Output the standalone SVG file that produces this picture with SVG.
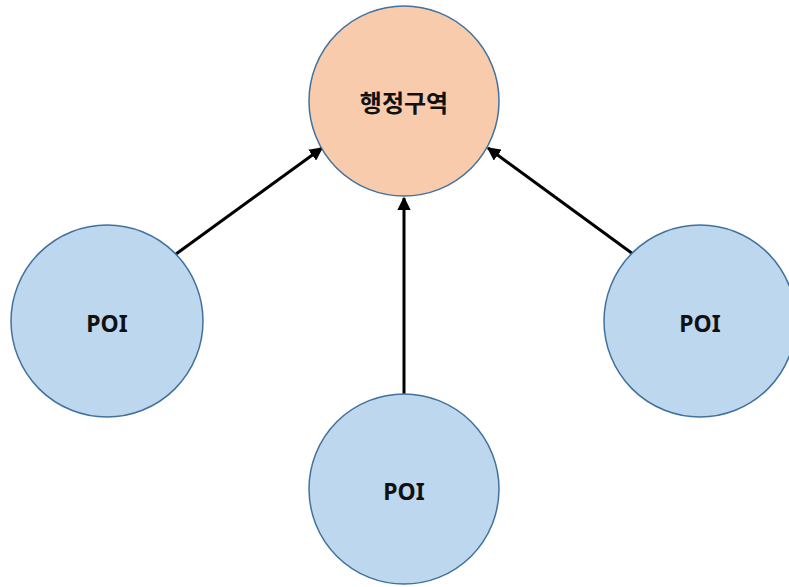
<svg xmlns="http://www.w3.org/2000/svg" width="789" height="587" viewBox="0 0 789 587">
<style>
.poi{fill:#BDD7EE;stroke:#41719C;stroke-width:1.5}
.admin{fill:#F8CBAD;stroke:#41719C;stroke-width:1.5}
.lbl{font-family:"Noto Sans","Noto Sans CJK KR",sans-serif;font-weight:bold;font-size:23px;fill:#111;text-anchor:middle;dominant-baseline:central}
.ko{font-family:"Noto Sans CJK KR",sans-serif;font-size:24px}
.edge{stroke:#000;stroke-width:3;fill:none;marker-end:url(#ah)}
</style>
<defs>
<marker id="ah" viewBox="0 0 10 10" refX="9" refY="5" markerWidth="4.5" markerHeight="4.5" orient="auto" markerUnits="strokeWidth">
<path d="M0,0 L10,5 L0,10 Z" fill="#000"/>
</marker>
</defs>
<rect width="789" height="587" fill="#fff"/>
<g id="edges">
<line class="edge" x1="176" y1="254" x2="322" y2="148"/>
<line class="edge" x1="404" y1="394" x2="404" y2="198"/>
<line class="edge" x1="633" y1="254" x2="488" y2="148"/>
</g>
<g id="admin">
<circle class="admin" cx="404" cy="101" r="95"/>
<text class="lbl ko" x="404" y="101">행정구역</text>
</g>
<g id="poi-left">
<circle class="poi" cx="107" cy="321" r="96"/>
<text class="lbl" x="107" y="323">POI</text>
</g>
<g id="poi-bottom">
<circle class="poi" cx="404" cy="489" r="95"/>
<text class="lbl" x="404" y="491">POI</text>
</g>
<g id="poi-right">
<circle class="poi" cx="700" cy="321" r="96"/>
<text class="lbl" x="700" y="323">POI</text>
</g>
</svg>
